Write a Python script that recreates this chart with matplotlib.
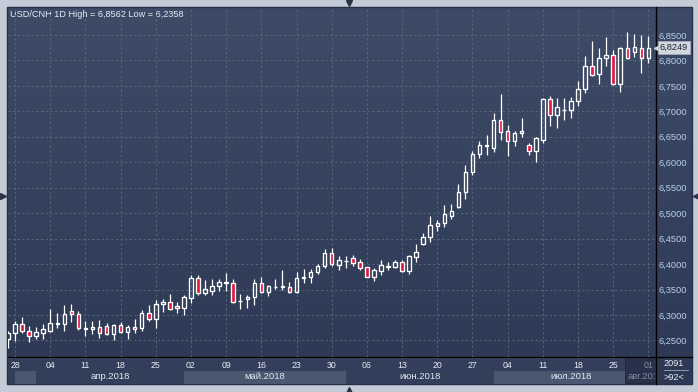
"""USD/CNH daily candles, Mar 27 - Aug 1 2018, redrawn in the terminal-chart look."""

import numpy as np
import pandas as pd
import matplotlib
matplotlib.use("Agg")
import matplotlib.pyplot as plt
from matplotlib.colors import LinearSegmentedColormap
from matplotlib.patches import Rectangle
from matplotlib.transforms import ScaledTranslation, blended_transform_factory

W, H = 698, 392

# one bar per weekday, 92 bars (">92<" in the corner)
dates = pd.bdate_range("2018-03-27", "2018-08-01")

opens = [
    6.2520, 6.2639, 6.2816, 6.2684, 6.2580, 6.2652, 6.2691, 6.2816, 6.2816, 6.3071,
    6.3012, 6.2717, 6.2717, 6.2757, 6.2783, 6.2632, 6.2796, 6.2671, 6.2757, 6.2744,
    6.3032, 6.2914, 6.3208, 6.3254, 6.3169, 6.3130, 6.3339, 6.3719, 6.3425, 6.3477,
    6.3562, 6.3621, 6.3621, 6.3274, 6.3307, 6.3346, 6.3621, 6.3457, 6.3546, 6.3549,
    6.3549, 6.3457, 6.3719, 6.3739, 6.3837, 6.3955, 6.4210, 6.3981, 6.4060, 6.4112,
    6.4040, 6.3935, 6.3752, 6.3870, 6.3947, 6.3949, 6.4040, 6.3870, 6.4145, 6.4400,
    6.4525, 6.4754, 6.4800, 6.4951, 6.5127, 6.5409, 6.5801, 6.6156, 6.6325, 6.6286,
    6.6824, 6.6607, 6.6410, 6.6568, 6.6332, 6.6213, 6.6437, 6.7236, 6.6921, 6.7025,
    6.7020, 6.7197, 6.7433, 6.7884, 6.7727, 6.8042, 6.8101, 6.7531, 6.8238, 6.8159,
    6.8238, 6.8042,
]
highs = [
    6.2680, 6.2881, 6.2953, 6.2776, 6.2757, 6.2816, 6.3117, 6.3045, 6.3189, 6.3208,
    6.3078, 6.2881, 6.2881, 6.2901, 6.2835, 6.2816, 6.2868, 6.2796, 6.2920, 6.3097,
    6.3195, 6.3293, 6.3313, 6.3412, 6.3248, 6.3385, 6.3785, 6.3785, 6.3687, 6.3700,
    6.3700, 6.3831, 6.3700, 6.3412, 6.3392, 6.3700, 6.3739, 6.3582, 6.3700, 6.3883,
    6.3647, 6.3850, 6.3896, 6.3909, 6.3994, 6.4289, 6.4309, 6.4158, 6.4158, 6.4178,
    6.4093, 6.3949, 6.3916, 6.4080, 6.4040, 6.4080, 6.4080, 6.4178, 6.4394, 6.4604,
    6.4943, 6.4865, 6.5160, 6.5180, 6.5573, 6.5946, 6.6228, 6.6411, 6.6535, 6.6961,
    6.7341, 6.6731, 6.6614, 6.6869, 6.6385, 6.6489, 6.7256, 6.7302, 6.7256, 6.7256,
    6.7276, 6.7596, 6.8087, 6.8382, 6.8238, 6.8454, 6.8205, 6.8258, 6.8562, 6.8520,
    6.8500, 6.8480,
]
lows = [
    6.2358, 6.2495, 6.2652, 6.2475, 6.2528, 6.2528, 6.2665, 6.2744, 6.2691, 6.2868,
    6.2704, 6.2586, 6.2626, 6.2553, 6.2606, 6.2508, 6.2639, 6.2528, 6.2652, 6.2685,
    6.2888, 6.2737, 6.3058, 6.3098, 6.3045, 6.3000, 6.3241, 6.3398, 6.3398, 6.3392,
    6.3477, 6.3464, 6.3228, 6.3123, 6.3136, 6.3202, 6.3438, 6.3372, 6.3510, 6.3490,
    6.3438, 6.3425, 6.3621, 6.3621, 6.3798, 6.3916, 6.3962, 6.3883, 6.3929, 6.3968,
    6.3883, 6.3739, 6.3673, 6.3785, 6.3883, 6.3916, 6.3844, 6.3804, 6.4034, 6.4381,
    6.4433, 6.4656, 6.4735, 6.4885, 6.5108, 6.5278, 6.5755, 6.6089, 6.6141, 6.6200,
    6.6436, 6.6122, 6.6326, 6.6489, 6.6148, 6.5998, 6.6370, 6.6719, 6.6680, 6.6836,
    6.6862, 6.7105, 6.7367, 6.7695, 6.7537, 6.7898, 6.7520, 6.7387, 6.8029, 6.8062,
    6.7747, 6.7955,
]
closes = [
    6.2639, 6.2816, 6.2684, 6.2580, 6.2665, 6.2717, 6.2842, 6.2842, 6.3019, 6.3012,
    6.2737, 6.2743, 6.2757, 6.2639, 6.2632, 6.2802, 6.2671, 6.2757, 6.2717, 6.3032,
    6.2914, 6.3208, 6.3247, 6.3110, 6.3130, 6.3346, 6.3719, 6.3425, 6.3503, 6.3562,
    6.3641, 6.3647, 6.3261, 6.3280, 6.3346, 6.3621, 6.3457, 6.3562, 6.3552, 6.3562,
    6.3457, 6.3719, 6.3739, 6.3844, 6.3955, 6.4210, 6.3994, 6.4080, 6.4067, 6.4027,
    6.3929, 6.3752, 6.3883, 6.3981, 6.3952, 6.4040, 6.3870, 6.4158, 6.4230, 6.4525,
    6.4761, 6.4800, 6.4983, 6.5049, 6.5409, 6.5801, 6.6156, 6.6332, 6.6332, 6.6823,
    6.6601, 6.6410, 6.6568, 6.6607, 6.6213, 6.6470, 6.7236, 6.6921, 6.7079, 6.7035,
    6.7197, 6.7432, 6.7884, 6.7708, 6.8042, 6.8101, 6.7531, 6.8238, 6.8055, 6.8258,
    6.8042, 6.8249,
]

price_ticks = [6.25, 6.30, 6.35, 6.40, 6.45, 6.50, 6.55, 6.60, 6.65, 6.70, 6.75, 6.80, 6.85]
day_labels = ["28", "04", "11", "18", "25", "02", "09", "16", "23", "30",
              "06", "13", "20", "27", "04", "11", "18", "25", "01"]
month_labels = ["апр.2018", "май.2018", "июн.2018", "июл.2018", "авг.2018"]

BG_TOP, BG_BOT = "#3e4b67", "#2d3954"
GRID = "#58677f"
RED = "#e3173e"
STRIP = "#333f5a"
STRIP_LIGHT = "#4b5771"


def comma(v):
    return f"{v:.4f}".replace(".", ",")


plt.rcParams["font.family"] = ["Liberation Sans", "DejaVu Sans"]
fig = plt.figure(figsize=(W / 100, H / 100), dpi=100, facecolor="#c3cbd6")


def px_axes(x0, y0, x1, y1, **kw):
    return fig.add_axes([x0 / W, 1 - y1 / H, (x1 - x0) / W, (y1 - y0) / H], **kw)


# background layer in pixel coordinates
bg = px_axes(0, 0, W, H)
bg.set_xlim(0, W)
bg.set_ylim(H, 0)
bg.axis("off")
grad = np.linspace(0, 1, 256)[:, None]
bg.imshow(grad, cmap=LinearSegmentedColormap.from_list("bg", [BG_TOP, BG_BOT]),
          extent=(7, 692, 384, 7), aspect="auto", zorder=0)
bg.add_patch(Rectangle((7, 7), 685, 377, fill=False, ec="#27304a", lw=1, zorder=1))
bg.plot([655.5, 655.5], [7, 384], color="black", lw=1, zorder=5)
bg.plot([8, 692], [357, 357], color="black", lw=1, zorder=5)
for mx, my, mk in [(349, 2.5, "v"), (349, 389.5, "^"), (2.5, 196, ">"), (695.5, 196, "<")]:
    bg.plot(mx, my, marker=mk, ms=5, color="#2b3447", zorder=5)
bg.text(674, 364, "2091", ha="center", va="center", fontsize=6.6, color="#e8edf5", zorder=5)
bg.plot([664, 688], [370, 370], color="#9aa6bb", lw=0.6, zorder=5)
bg.text(674, 377, ">92<", ha="center", va="center", fontsize=6.6, color="#e8edf5", zorder=5)
bg.text(10, 14.5, f"USD/CNH 1D High = {comma(max(highs))} Low = {comma(min(lows))}",
        va="center", fontsize=6.6, color="#e8edf5", zorder=5)

# candles
ax = px_axes(8, 8, 655, 357)
ax.set_facecolor("none")
x = np.arange(len(opens))
o, h, l, c = (np.array(a) for a in (opens, highs, lows, closes))
top, bot = np.maximum(o, c), np.minimum(o, c)
up = c >= o
ax.vlines(x, top, h, color="white", lw=0.9, zorder=3)
ax.vlines(x, l, bot, color="white", lw=0.9, zorder=3)
ax.bar(x[up], (top - bot)[up], bottom=bot[up], width=0.5, facecolor="none",
       edgecolor="white", lw=0.95, zorder=4)
ax.bar(x[~up], (top - bot)[~up], bottom=bot[~up], width=0.5, facecolor=RED,
       edgecolor="white", lw=0.95, zorder=4)

tick_pos = list(range(1, len(opens) + 1, 5))
ax.set_xlim(0, 91.94)
ax.set_ylim(6.2174, 6.903)
ax.set_xticks(tick_pos)
ax.set_yticks(price_ticks)
ax.set_yticklabels([comma(v) for v in price_ticks])
ax.yaxis.tick_right()
ax.tick_params(axis="y", length=0, pad=2.5, labelsize=6.7, labelcolor="#b9cde8")
ax.tick_params(axis="x", length=0, labelbottom=False)
ax.grid(True, color=GRID, lw=0.7, ls=(0, (2.2, 2.6)), zorder=1)
for s in ax.spines.values():
    s.set_visible(False)

# last price tag
tr = blended_transform_factory(ax.transAxes, ax.transData)
ax.plot([1.0], [closes[-1]], marker="<", ms=5.5, color="#d3d8e0", clip_on=False, zorder=6,
        transform=tr + ScaledTranslation(2.2 / 72, 0, fig.dpi_scale_trans))
ax.text(1.0, closes[-1], comma(closes[-1]), ha="left", va="center", fontsize=6.7,
        color="#1c2333", clip_on=False, zorder=7,
        transform=tr + ScaledTranslation(3.6 / 72, 0, fig.dpi_scale_trans),
        bbox=dict(boxstyle="square,pad=0.2", fc="#d3d8e0", ec="#aab2c0", lw=0.5))

# date strip
ad = px_axes(8, 357.5, 655, 384)
ad.set_xlim(ax.get_xlim())
ad.set_ylim(0, 1)
ad.set_facecolor(STRIP)
ad.set_xticks([])
ad.set_yticks([])
for s in ad.spines.values():
    s.set_visible(False)

month_idx = pd.Series(np.arange(len(dates)), index=dates).groupby(dates.to_period("M")).first()
starts = list(month_idx.values) + [len(dates)]
starts[0] = tick_pos[0]   # the first (partial) month band begins at the first labelled day
for k in range(len(starts) - 1):
    if k % 2 == 0:
        ad.axvspan(starts[k], starts[k + 1], ymin=0, ymax=0.49, color=STRIP_LIGHT, lw=0)
for k, lab in enumerate(month_labels[:-1]):
    ad.text((starts[k + 1] + starts[k + 2]) / 2, 0.27, lab, ha="center", va="center",
            fontsize=6.8, color="#e2e8f1")

ad.add_patch(Rectangle((87.7, 0.03), 5, 0.94, fc="#283149", ec="#1f2739", lw=0.6, zorder=3))
ad.text(88.0, 0.27, month_labels[-1], ha="left", va="center", fontsize=6.8,
        color="#7f8aa0", zorder=4, clip_on=True)
for p, lab in zip(tick_pos, day_labels):
    ad.text(p, 0.71, lab, ha="center", va="center", fontsize=6.3, zorder=4,
            color="#7f8aa0" if p == tick_pos[-1] else "#e6ebf3")

fig.savefig("out.png", dpi=100, facecolor=fig.get_facecolor())
